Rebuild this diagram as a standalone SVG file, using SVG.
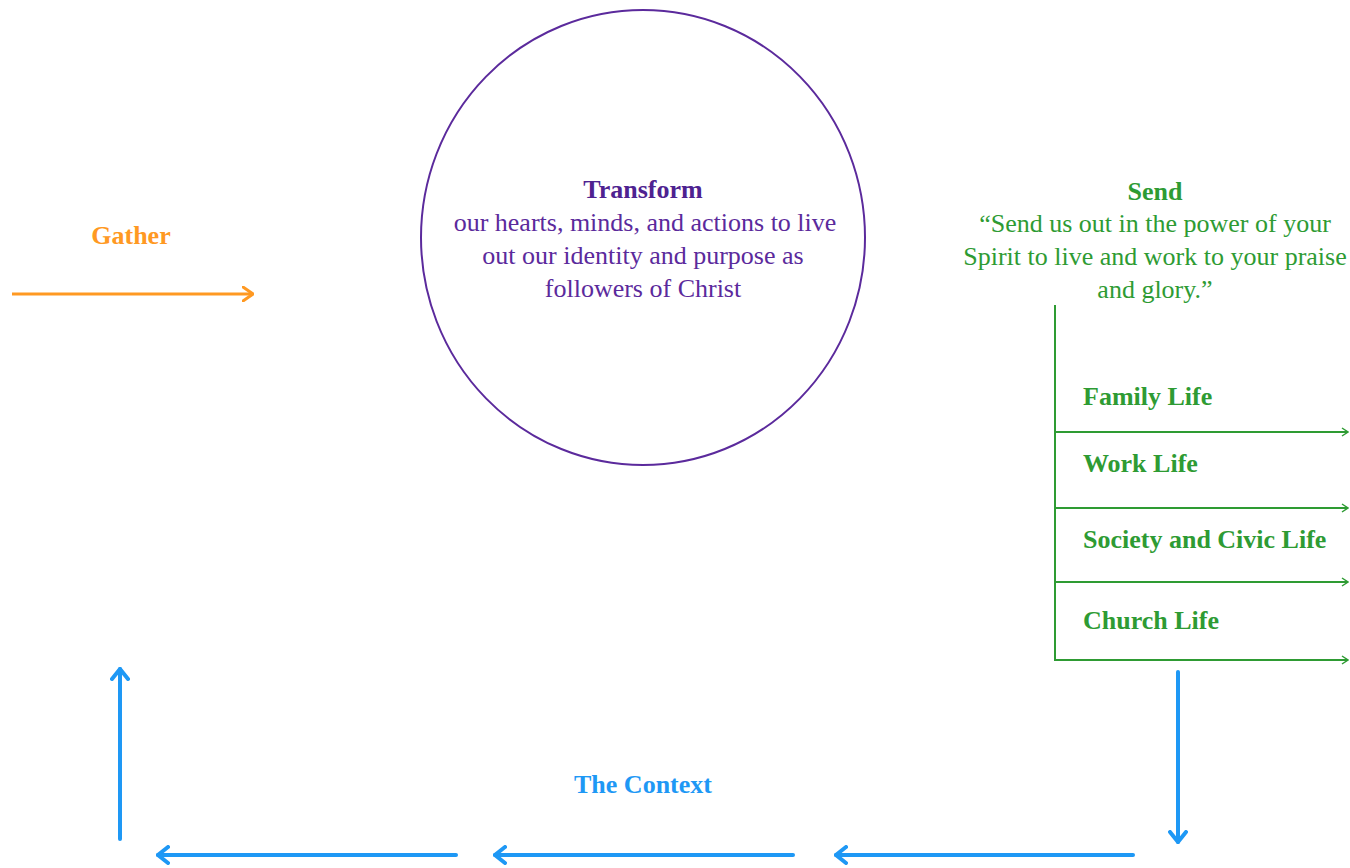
<svg xmlns="http://www.w3.org/2000/svg" width="1350" height="868" viewBox="0 0 1350 868">
<style>
.b{font-weight:bold}
.s{text-anchor:start}
.g{fill:#2e9b33}
.p{fill:#5b2a9c}
.bl{fill:#1e98f5}
.blue{stroke:#1e98f5;stroke-width:4;fill:none;stroke-linecap:round}
.grn{stroke:#2e9b33;stroke-width:2;fill:none}
</style>
<defs>
<marker id="ao" markerWidth="12" markerHeight="16" refX="11" refY="8" orient="auto" markerUnits="userSpaceOnUse">
<path d="M1,1 L11,8 L1,15" fill="none" stroke="#ff9922" stroke-width="3" stroke-linecap="round"/>
</marker>
<marker id="ab" markerWidth="14" markerHeight="20" refX="12" refY="10" orient="auto" markerUnits="userSpaceOnUse">
<path d="M2,2 L12,10 L2,18" fill="none" stroke="#1e98f5" stroke-width="4" stroke-linecap="round"/>
</marker>
<marker id="ag" markerWidth="8" markerHeight="10" refX="7" refY="5" orient="auto" markerUnits="userSpaceOnUse">
<path d="M1,1 L7,5 L1,9" fill="none" stroke="#2e9b33" stroke-width="1.5"/>
</marker>
</defs>
<g font-family="Liberation Serif, Times New Roman, serif" font-size="26" text-anchor="middle">
<g id="gather">
<text x="131" y="244" class="b" fill="#ff9922">Gather</text>
</g>
<g id="transform">
<ellipse cx="643" cy="237.5" rx="222" ry="227.5" fill="none" stroke="#5b2a9c" stroke-width="2"/>
<text x="643" y="198" class="b" fill="#4e2290">Transform</text>
<text x="645" y="231" class="p">our hearts, minds, and actions to live</text>
<text x="643" y="264" class="p">out our identity and purpose as</text>
<text x="643" y="297" class="p">followers of Christ</text>
</g>
<g id="send">
<text x="1155" y="200" class="b g">Send</text>
<text x="1155" y="232" class="g">“Send us out in the power of your</text>
<text x="1155" y="265" class="g">Spirit to live and work to your praise</text>
<text x="1155" y="298" class="g">and glory.”</text>
</g>
<g id="life-areas">
<text x="1083" y="405" class="b g s">Family Life</text>
<text x="1083" y="472" class="b g s">Work Life</text>
<text x="1083" y="548" class="b g s">Society and Civic Life</text>
<text x="1083" y="629" class="b g s">Church Life</text>
</g>
<g id="context">
<text x="643" y="793" class="b bl">The Context</text>
</g>
</g>
<g id="connectors">
<line x1="12" y1="294" x2="253" y2="294" stroke="#ff9922" stroke-width="3" marker-end="url(#ao)"/>
<line x1="1055" y1="305" x2="1055" y2="661" class="grn"/>
<line x1="1054" y1="432" x2="1348" y2="432" class="grn" marker-end="url(#ag)"/>
<line x1="1054" y1="508" x2="1348" y2="508" class="grn" marker-end="url(#ag)"/>
<line x1="1054" y1="582" x2="1348" y2="582" class="grn" marker-end="url(#ag)"/>
<line x1="1054" y1="660" x2="1348" y2="660" class="grn" marker-end="url(#ag)"/>
<line x1="1178" y1="672" x2="1178" y2="842" class="blue" marker-end="url(#ab)"/>
<line x1="1133" y1="855" x2="836" y2="855" class="blue" marker-end="url(#ab)"/>
<line x1="793" y1="855" x2="495" y2="855" class="blue" marker-end="url(#ab)"/>
<line x1="456" y1="855" x2="158" y2="855" class="blue" marker-end="url(#ab)"/>
<line x1="120" y1="839" x2="120" y2="669" class="blue" marker-end="url(#ab)"/>
</g>
</svg>
